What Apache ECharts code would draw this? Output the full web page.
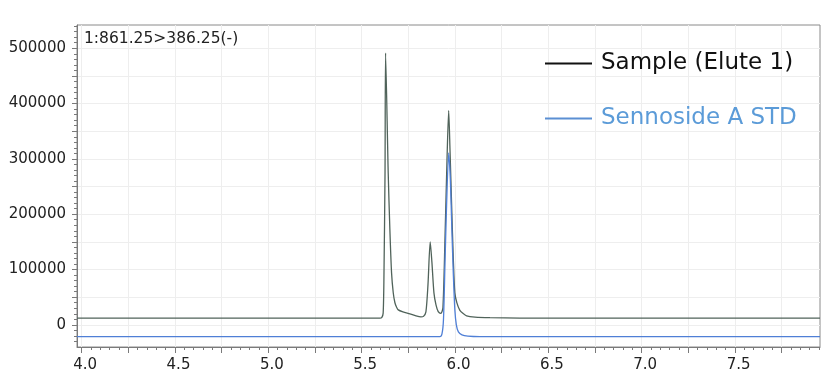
<!DOCTYPE html>
<html>
<head>
<meta charset="utf-8">
<script src="https://cdn.jsdelivr.net/npm/echarts@6/dist/echarts.min.js"></script>
<style>
html,body{margin:0;padding:0;background:#fff;}
#chart{width:832px;height:384px;}
</style>
</head>
<body>
<div id="chart"></div>
<script>
// Retention time (min) and intensity
var sampleTime = [3.975, 5.598, 5.608, 5.615, 5.619, 5.625, 5.628, 5.642, 5.651, 5.660, 5.669, 5.678, 5.687, 5.696, 5.721, 5.758, 5.791, 5.817, 5.831, 5.844, 5.855, 5.867, 5.876, 5.887, 5.898, 5.910, 5.924, 5.935, 5.946, 5.957, 5.966, 5.973, 5.982, 5.991, 5.999, 6.010, 6.026, 6.042, 6.062, 6.107, 6.187, 6.348, 6.777, 7.955];
var sampleIntensity = [12100, 12100, 13600, 21200, 81400, 274900, 491300, 274900, 171800, 94000, 58000, 40000, 32000, 27100, 23500, 19900, 16300, 14500, 15400, 23500, 72300, 150100, 113900, 57900, 36200, 24000, 20800, 30700, 153700, 298400, 387500, 316500, 213900, 117500, 57900, 39800, 26200, 20800, 16300, 14100, 13000, 12300, 12100, 12100];

var stdTime = [3.975, 5.919, 5.930, 5.938, 5.946, 5.954, 5.966, 5.975, 5.983, 5.991, 5.999, 6.007, 6.018, 6.037, 6.069, 6.133, 7.955];
var stdIntensity = [-21200, -21200, -16300, 9000, 108500, 208000, 311000, 262200, 171800, 90400, 27100, 0, -12700, -18100, -20300, -21200, -21200];

var seriesNames = ['Sample (Elute 1)', 'Sennoside A STD'];
var channelLabel = '1:861.25>386.25(-)';
var xTickLabels = [4.0, 4.5, 5.0, 5.5, 6.0, 6.5, 7.0, 7.5];
var yTickLabels = [0, 100000, 200000, 300000, 400000, 500000];

var X_MIN = 3.975, X_MAX = 7.955, Y_MIN = -40000, Y_MAX = 542000;

function pairs(xs, ys) {
  var out = [];
  for (var i = 0; i < xs.length; i++) out.push([xs[i], ys[i]]);
  return out;
}
function steps(from, to, step) {
  var out = [];
  var n = Math.floor((to - from) / step + 1e-9);
  for (var i = 0; i <= n; i++) out.push(Math.round((from + i * step) * 1e6) / 1e6);
  return out;
}
var xMajor = steps(4.0, 7.75, 0.25);
var xMinor = steps(4.0, 7.95, 0.05);
var yMajor = steps(0, 500000, 50000);
var yMinor = steps(-30000, 540000, 10000);

var FONT = 'DejaVu Sans';
var AX = '#7a7a7a';
var chart = echarts.init(document.getElementById('chart'), null, {renderer: 'canvas'});
chart.setOption({
  backgroundColor: '#ffffff',
  animation: false,
  title: {
    text: channelLabel,
    left: 84, top: 31, padding: 0,
    textStyle: {fontFamily: FONT, fontSize: 15.5, fontWeight: 'normal', color: '#222'}
  },
  legend: {
    orient: 'vertical',
    left: 545, top: 52, padding: 0,
    itemWidth: 47, itemHeight: 2,
    itemGap: 32,
    icon: 'rect',
    data: [
      {name: seriesNames[0], itemStyle: {color: '#111'}, textStyle: {color: '#111'}},
      {name: seriesNames[1], itemStyle: {color: '#5b8fd3'}, textStyle: {color: '#5b9bd8'}}
    ],
    textStyle: {fontFamily: FONT, fontSize: 23, padding: [0, 0, 0, 4]}
  },
  grid: {
    left: 77, right: 12, top: 25, bottom: 37,
    show: true, borderColor: '#8a8a8a', borderWidth: 1, containLabel: false
  },
  xAxis: [
    {
      type: 'value', gridIndex: 0, position: 'bottom',
      min: X_MIN, max: X_MAX,
      axisLine: {onZero: false, lineStyle: {color: AX}},
      axisTick: {show: true, inside: false, length: 6, customValues: xMajor, lineStyle: {color: AX}},
      splitLine: {show: true, lineStyle: {color: '#eeeeee'}},
      axisLabel: {
        fontFamily: FONT, fontSize: 15, color: '#222', margin: 11,
        customValues: xTickLabels, padding: [0, 0, 0, 7],
        formatter: function (v) { return Number(v).toFixed(1); }
      }
    },
    {
      type: 'value', gridIndex: 0, position: 'bottom',
      min: X_MIN, max: X_MAX,
      axisLine: {show: false, onZero: false},
      axisTick: {show: true, inside: false, length: 3, customValues: xMinor, lineStyle: {color: AX}},
      splitLine: {show: false},
      axisLabel: {show: false}
    }
  ],
  yAxis: [
    {
      type: 'value', gridIndex: 0, position: 'left',
      min: Y_MIN, max: Y_MAX,
      axisLine: {show: true, onZero: false, lineStyle: {color: AX}},
      axisTick: {show: true, inside: false, length: 5, customValues: yMajor, lineStyle: {color: AX}},
      splitLine: {show: true, lineStyle: {color: '#eeeeee'}},
      axisLabel: {
        fontFamily: FONT, fontSize: 15, color: '#222', margin: 11,
        customValues: yTickLabels,
        formatter: function (v) { return String(Math.round(v)); }
      }
    },
    {
      type: 'value', gridIndex: 0, position: 'left',
      min: Y_MIN, max: Y_MAX,
      axisLine: {show: false, onZero: false},
      axisTick: {show: true, inside: false, length: 3, customValues: yMinor, lineStyle: {color: AX}},
      splitLine: {show: false},
      axisLabel: {show: false}
    }
  ],
  series: [
    {
      name: seriesNames[0], type: 'line', data: pairs(sampleTime, sampleIntensity),
      xAxisIndex: 0, yAxisIndex: 0,
      showSymbol: false, symbol: 'none', smooth: 0.25, clip: true,
      lineStyle: {color: '#50635a', width: 1.3},
      itemStyle: {color: '#50635a'}, z: 3
    },
    {
      name: seriesNames[1], type: 'line', data: pairs(stdTime, stdIntensity),
      xAxisIndex: 0, yAxisIndex: 0,
      showSymbol: false, symbol: 'none', smooth: 0.25, clip: true,
      lineStyle: {color: '#4f7fd6', width: 1.3},
      itemStyle: {color: '#4f7fd6'}, z: 4
    }
  ]
});
</script>
</body>
</html>
